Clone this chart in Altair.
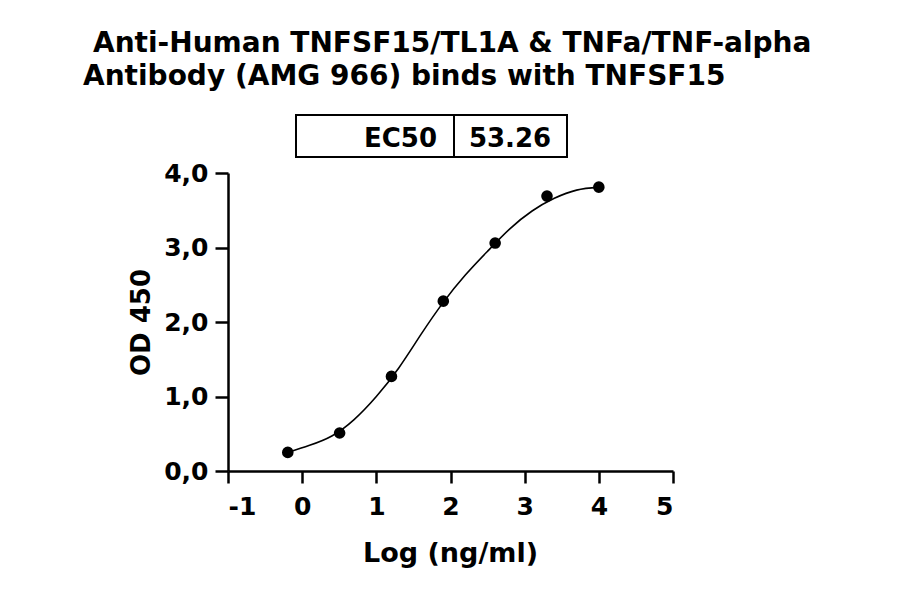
import altair as alt
import pandas as pd

# Measured data points (log concentration, OD 450)
log_conc = [-0.194, 0.505, 1.204, 1.903, 2.602, 3.301, 4.0]
od450 = [0.25, 0.51, 1.27, 2.28, 3.06, 3.69, 3.81]

# Fitted curve
curve_x = [-0.194, 0.1, 0.4, 0.7, 1.0, 1.3, 1.6, 1.9, 2.2, 2.5, 2.8, 3.1, 3.4, 3.7, 4.0]
curve_y = [0.25, 0.345, 0.47, 0.69, 1.00, 1.38, 1.83, 2.26, 2.63, 2.95, 3.25, 3.49, 3.66, 3.77, 3.81]

x_ticks = [-1, 0, 1, 2, 3, 4, 5]
y_ticks = [0, 1, 2, 3, 4]

title_lines = ["Anti-Human TNFSF15/TL1A & TNFa/TNF-alpha", "Antibody (AMG 966) binds with TNFSF15"]
ec50_label = "EC50"
ec50_value = "53.26"

FONT = "DejaVu Sans"

pts = pd.DataFrame({"x": log_conc, "y": od450})
crv = pd.DataFrame({"x": curve_x, "y": curve_y})
one = pd.DataFrame({"a": [0]})

xscale = alt.Scale(domain=[-1, 5], nice=False, zero=False)
yscale = alt.Scale(domain=[0, 4], nice=False, zero=False)

xaxis = alt.Axis(
    values=x_ticks, labelExpr="'' + datum.value", grid=False,
    domainColor="black", domainWidth=2.5, tickColor="black", tickWidth=2.5, tickSize=12,
    labelFont=FONT, labelFontSize=25, labelFontWeight="bold", labelColor="black", labelPadding=11,
    title="Log (ng/ml)", titleFont=FONT, titleFontSize=27, titleFontWeight="bold", titleColor="black",
    titleX=222, titleY=90, titleAlign="center", titleBaseline="alphabetic",
)
yaxis = alt.Axis(
    values=y_ticks, labelExpr="replace(format(datum.value, '.1f'), '.', ',')", grid=False,
    domainColor="black", domainWidth=2.5, tickColor="black", tickWidth=2.5, tickSize=13,
    labelFont=FONT, labelFontSize=25, labelFontWeight="bold", labelColor="black", labelPadding=7,
    title="OD 450", titleFont=FONT, titleFontSize=26, titleFontWeight="bold", titleColor="black",
    titleAngle=270, titleX=-79, titleY=149, titleAlign="center", titleBaseline="alphabetic",
)

line = alt.Chart(crv).mark_line(color="black", strokeWidth=1.6, interpolate="natural").encode(
    x=alt.X("x:Q", scale=xscale, axis=xaxis),
    y=alt.Y("y:Q", scale=yscale, axis=yaxis),
)
points = alt.Chart(pts).mark_point(filled=True, color="black", size=135, opacity=1).encode(
    x=alt.X("x:Q", scale=xscale),
    y=alt.Y("y:Q", scale=yscale),
)

box = alt.Chart(one).mark_rect(fill="white", stroke="black", strokeWidth=2).encode(
    x=alt.value(68), x2=alt.value(339), y=alt.value(-58), y2=alt.value(-16)
)
divider = alt.Chart(one).mark_rule(color="black", strokeWidth=2).encode(
    x=alt.value(226), y=alt.value(-58), y2=alt.value(-16)
)
ec50_t = alt.Chart(one).mark_text(font=FONT, fontSize=26, fontWeight="bold", color="black",
                                  align="right", baseline="alphabetic").encode(
    x=alt.value(209), y=alt.value(-26), text=alt.value(ec50_label)
)
ec50_v = alt.Chart(one).mark_text(font=FONT, fontSize=26, fontWeight="bold", color="black",
                                  align="center", baseline="alphabetic").encode(
    x=alt.value(282), y=alt.value(-26), text=alt.value(ec50_value)
)
t1 = alt.Chart(one).mark_text(font=FONT, fontSize=28, fontWeight="bold", color="black",
                              align="left", baseline="alphabetic").encode(
    x=alt.value(-135), y=alt.value(-121), text=alt.value(title_lines[0])
)
t2 = alt.Chart(one).mark_text(font=FONT, fontSize=28, fontWeight="bold", color="black",
                              align="left", baseline="alphabetic").encode(
    x=alt.value(-145), y=alt.value(-88), text=alt.value(title_lines[1])
)

chart = alt.layer(line, points, box, divider, ec50_t, ec50_v, t1, t2).properties(
    width=445, height=298,
    padding={"left": 220, "top": 165, "right": 210, "bottom": 105},
    autosize=alt.AutoSizeParams(type="none"),
    background="white",
).configure_view(stroke=None)

chart.save("out.html", embed_options={"renderer": "svg", "actions": False})
